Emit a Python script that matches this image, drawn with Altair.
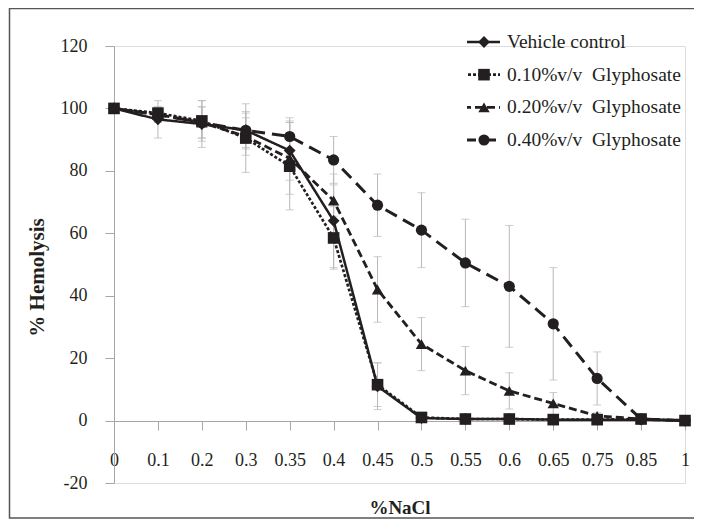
import altair as alt
import pandas as pd

categories = ["0", "0.1", "0.2", "0.3", "0.35", "0.4", "0.45", "0.5", "0.55", "0.6", "0.65", "0.75", "0.85", "1"]
series_names = ["Vehicle control", "0.10%v/v\u00a0 Glyphosate", "0.20%v/v\u00a0 Glyphosate", "0.40%v/v\u00a0 Glyphosate"]

vehicle = [100, 96.5, 95, 93, 86.5, 64, 11, 0.8, 0.5, 0.5, 0.3, 0.3, 0.3, 0]
g010 = [100, 98.5, 96, 90.5, 81.5, 58.5, 11.5, 1, 0.5, 0.5, 0.3, 0.3, 0.5, 0]
g020 = [100, 98, 95.5, 91, 84, 70.5, 42, 24.5, 16, 9.5, 5.5, 1.5, 0.5, 0]
g040 = [100, 98, 95.5, 93, 91, 83.5, 69, 61, 50.5, 43, 31, 13.5, 0.5, 0]

err_vehicle = [0, 6, 7.5, 6, 9.5, 15, 7.5, 0.5, 0.3, 0.3, 0.2, 0.2, 0.2, 0]
err_g010 = [0, 2, 6.5, 11, 14, 10, 7, 0.8, 0.3, 0.3, 0.2, 0.2, 0.3, 0]
err_g020 = [0, 2.5, 5, 6, 11.5, 5, 10.5, 8.5, 7.7, 5.8, 3.5, 1, 0.5, 0]
err_g040 = [0, 2, 5, 5.5, 6, 7.5, 10, 12, 14, 19.5, 18, 8.5, 0.5, 0]

y_ticks = [-20, 0, 20, 40, 60, 80, 100, 120]

values = [vehicle, g010, g020, g040]
errors = [err_vehicle, err_g010, err_g020, err_g040]

rows = []
for name, vals, errs in zip(series_names, values, errors):
    for c, v, e in zip(categories, vals, errs):
        rows.append({"nacl": c, "series": name, "value": v, "err": e,
                     "lo": v - e, "hi": v + e})
df = pd.DataFrame(rows)
df_err = df[df["err"] > 0]
legend_df = pd.DataFrame({"series": series_names})

INK = "#231f20"
GRAY = "#b8b8b8"
AXIS = "#a6a6a6"
FONT = "Liberation Serif"

x_enc = alt.X("nacl:N", sort=categories,
              scale=alt.Scale(type="point", padding=0, domain=categories),
              axis=alt.Axis(title="%NaCl", offset=-62, labelAngle=0, grid=False,
                            domainColor=AXIS, tickColor=AXIS, tickSize=9,
                            labelPadding=21, labelFont=FONT, labelFontSize=18,
                            labelColor=INK, titleFont=FONT, titleFontSize=19,
                            titleFontWeight="bold", titleColor=INK,
                            titleBaseline="middle", titleY=86))
y_scale = alt.Scale(domain=[-20, 120], nice=False, zero=False)
y_axis = alt.Axis(title="% Hemolysis", values=y_ticks, labelExpr="'' + datum.value",
                  grid=False, domainColor=AXIS, tickColor=AXIS, tickSize=9,
                  labelPadding=18, labelFont=FONT, labelFontSize=18, labelColor=INK,
                  titleFont=FONT, titleFontSize=21, titleFontWeight="bold",
                  titleColor=INK, titleX=-77, titleY=231, titleAlign="center",
                  titleBaseline="middle")

dash_scale = alt.Scale(domain=series_names, range=[[1, 0], [3, 2], [8, 4], [13, 7]])
width_scale = alt.Scale(domain=series_names, range=[2.5, 3, 2.5, 2.5])
shape_scale = alt.Scale(domain=series_names, range=["diamond", "square", "triangle-up", "circle"])
size_scale = alt.Scale(domain=series_names, range=[140, 125, 130, 90])

err_rule = alt.Chart(df_err).mark_rule(color=GRAY, strokeWidth=1).encode(
    x=x_enc, y=alt.Y("lo:Q", scale=y_scale, axis=y_axis), y2="hi:Q")
cap_lo = alt.Chart(df_err).mark_tick(color=GRAY, thickness=1, size=8).encode(
    x=x_enc, y=alt.Y("lo:Q", scale=y_scale))
cap_hi = alt.Chart(df_err).mark_tick(color=GRAY, thickness=1, size=8).encode(
    x=x_enc, y=alt.Y("hi:Q", scale=y_scale))

lines = alt.Chart(df).mark_line(color=INK, strokeCap="butt").encode(
    x=x_enc, y=alt.Y("value:Q", scale=y_scale),
    detail="series:N",
    strokeDash=alt.StrokeDash("series:N", scale=dash_scale, legend=None),
    strokeWidth=alt.StrokeWidth("series:N", scale=width_scale, legend=None))
points = alt.Chart(df).mark_point(filled=True, color=INK, opacity=1).encode(
    x=x_enc, y=alt.Y("value:Q", scale=y_scale),
    shape=alt.Shape("series:N", scale=shape_scale, legend=None),
    size=alt.Size("series:N", scale=size_scale, legend=None))

main = alt.layer(err_rule, cap_lo, cap_hi, lines, points)

leg_y = alt.Y("series:N", sort=series_names,
              scale=alt.Scale(type="point", padding=0, domain=series_names, range=[-4, 94]),
              axis=None)
leg_line = alt.Chart(legend_df).mark_rule(color=INK, strokeCap="butt", strokeDashOffset=4).encode(
    x=alt.value(353), x2=alt.value(386), y=leg_y,
    strokeDash=alt.StrokeDash("series:N", scale=dash_scale, legend=None),
    strokeWidth=alt.StrokeWidth("series:N", scale=width_scale, legend=None))
leg_pt = alt.Chart(legend_df).mark_point(filled=True, color=INK, opacity=1).encode(
    x=alt.value(370), y=leg_y,
    shape=alt.Shape("series:N", scale=shape_scale, legend=None),
    size=alt.Size("series:N", scale=size_scale, legend=None))
leg_txt = alt.Chart(legend_df).mark_text(align="left", baseline="middle", font=FONT,
                                         fontSize=19.5, color=INK).encode(
    x=alt.value(393), y=leg_y, text="series:N")
legend = alt.layer(leg_line, leg_pt, leg_txt)

frame = alt.Chart(legend_df.head(1)).mark_rect(fillOpacity=0, stroke="#555555",
                                               strokeWidth=1.5).encode(
    x=alt.value(-104.5), x2=alt.value(620), y=alt.value(-37.5), y2=alt.value(472))

chart = alt.layer(main, legend, frame).resolve_scale(y="independent").properties(
    width=571, height=437,
    padding={"left": 106, "top": 38, "right": 9, "bottom": 36},
    autosize=alt.AutoSizeParams(type="none"),
).configure_view(stroke=None).configure(background="white")

chart.save("out.html", embed_options={"renderer": "svg", "actions": False})
